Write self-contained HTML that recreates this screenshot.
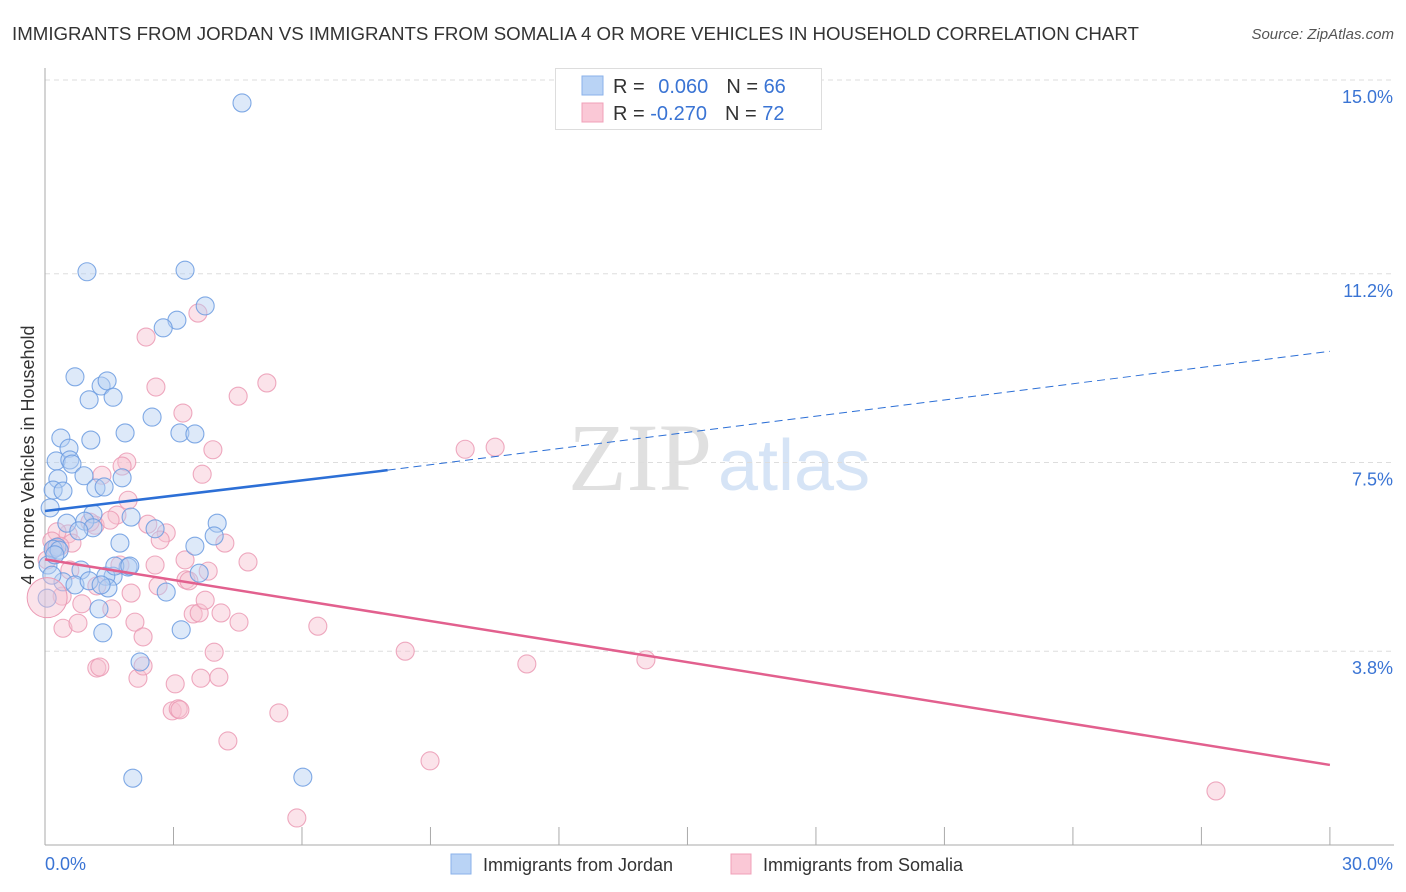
<!DOCTYPE html>
<html><head><meta charset="utf-8"><style>
body{margin:0;background:#fff;font-family:"Liberation Sans",sans-serif}
svg{display:block}
</style></head><body>
<svg id="chart" width="1406" height="892">
<text x="12" y="40" font-size="18.7" fill="#333">IMMIGRANTS FROM JORDAN VS IMMIGRANTS FROM SOMALIA 4 OR MORE VEHICLES IN HOUSEHOLD CORRELATION CHART</text>
<text x="1394" y="39" font-size="15" fill="#555" font-style="italic" text-anchor="end">Source: ZipAtlas.com</text>
<text x="712" y="490" font-size="96" fill="#e0e0e0" font-family="Liberation Serif,serif" text-anchor="end">ZIP</text>
<text x="718" y="490" font-size="72" fill="#d6e4f6">atlas</text>
<g id="grid"></g><g id="axes"></g><g id="pts"></g><g id="lines"></g>
<text transform="translate(34,455) rotate(-90)" font-size="18" fill="#333" text-anchor="middle">4 or more Vehicles in Household</text>
<g>
<rect x="555.5" y="68.5" width="266" height="61" fill="#fff" stroke="#ddd"/>
<rect x="582" y="76" width="21" height="19" fill="#b9d3f5" stroke="#8ab2ea"/>
<rect x="582" y="103" width="21" height="19" fill="#fac8d6" stroke="#f0a0b8"/>
<text x="613" y="93" font-size="20" fill="#333">R = <tspan fill="#3a74d4" dx="8">0.060</tspan><tspan dx="18" fill="#333">N = </tspan><tspan fill="#3a74d4">66</tspan></text>
<text x="613" y="120" font-size="20" fill="#333">R = <tspan fill="#3a74d4">-0.270</tspan><tspan dx="18" fill="#333">N = </tspan><tspan fill="#3a74d4">72</tspan></text>
</g>
<g>
<rect x="451" y="854" width="20" height="20" fill="#b9d3f5" stroke="#8ab2ea"/>
<text x="483" y="871" font-size="18" fill="#333">Immigrants from Jordan</text>
<rect x="731" y="854" width="20" height="20" fill="#fac8d6" stroke="#f0a0b8"/>
<text x="763" y="871" font-size="18" fill="#333">Immigrants from Somalia</text>
</g>
</svg>
<script>
const yTicks=[15.0,11.2,7.5,3.8];
const yTickLabels=["15.0%","11.2%","7.5%","3.8%"];
const xTickLabels=["0.0%","30.0%"];
const jordanPx=[[242,103],[87,272],[185,270],[205,306],[177,320],[163,328],[75,377],[101,386],[107,381],[113,397],[89,400],[152,417],[125,433],[180,433],[195,434],[61,438],[91,440],[69,448],[56,461],[70,460],[72,464],[84,476],[122,478],[58,479],[96,488],[104,487],[53,490],[63,491],[50,508],[93,514],[131,517],[67,523],[85,521],[93,528],[79,531],[217,523],[155,529],[214,536],[120,543],[195,546],[57,547],[53,549],[59,550],[81,570],[113,576],[106,576],[128,567],[115,566],[130,566],[199,573],[63,582],[75,585],[108,588],[89,581],[101,585],[166,592],[99,609],[103,633],[181,630],[140,662],[133,778],[303,777],[48,565],[55,555],[47,598],[52,575]];
const somaliaPx=[[198,313],[146,337],[156,387],[267,383],[238,396],[183,413],[213,450],[465,449],[495,447],[127,462],[122,466],[102,475],[202,474],[117,515],[148,524],[166,533],[68,534],[95,525],[90,522],[57,532],[52,541],[72,543],[60,546],[225,543],[248,562],[155,565],[208,571],[120,565],[186,580],[189,581],[158,586],[131,593],[97,586],[82,604],[112,609],[193,614],[199,613],[221,613],[239,622],[318,626],[63,628],[78,623],[135,622],[143,637],[405,651],[527,664],[646,660],[214,652],[97,668],[100,667],[138,678],[201,678],[219,677],[175,684],[143,666],[172,711],[178,709],[180,710],[279,713],[228,741],[430,761],[1216,791],[297,818],[47,560],[55,548],[70,570],[110,520],[128,500],[160,540],[185,560],[205,600],[62,596]];
const jordanX=jordanPx.map(p=>+((p[0]-45)/42.83).toFixed(2));
const jordanY=jordanPx.map(p=>+((845-p[1])/51.0).toFixed(2));
const somaliaX=somaliaPx.map(p=>+((p[0]-45)/42.83).toFixed(2));
const somaliaY=somaliaPx.map(p=>+((845-p[1])/51.0).toFixed(2));
const jordanTrend=[6.55,7.35,9.68];
const somaliaTrend=[5.6,1.57];
const NS="http://www.w3.org/2000/svg";
const X=v=>45+v*42.83, Y=v=>845-v*51.0;
function mk(t,a,p){const e=document.createElementNS(NS,t);for(const k in a)e.setAttribute(k,a[k]);p.appendChild(e);return e;}
const grid=document.getElementById('grid'),axes=document.getElementById('axes'),pts=document.getElementById('pts'),lines=document.getElementById('lines');
yTicks.forEach((v,i)=>{
 const l=mk('line',{x1:45,x2:1394,y1:Y(v),y2:Y(v),stroke:'#ddd','stroke-dasharray':'5,4'},grid);
 
 
 const t=mk('text',{x:1393,y:Y(v)+23,'font-size':18,fill:'#3a74d4','text-anchor':'end'},grid);
 t.textContent=yTickLabels[i];
 
 
});
const ya=mk('line',{x1:45,x2:45,y1:68,y2:845,stroke:'#aaa'},axes);


const xa=mk('line',{x1:45,x2:1394,y1:845,y2:845,stroke:'#aaa'},axes);


for(let i=0;i<=10;i++){const tk=mk('line',{x1:X(i*3),x2:X(i*3),y1:827,y2:845,stroke:'#aaa'},axes);
 
 }
[[0,45,'start'],[30,1393,'end']].forEach((d,i)=>{const t=mk('text',{x:d[1],y:870,'font-size':18,fill:'#3a74d4','text-anchor':d[2]},axes);t.textContent=xTickLabels[i];
 
 });
function dots(xs,ys,fill,stroke,name){xs.forEach((x,i)=>{const c=mk('circle',{cx:X(x),cy:Y(ys[i]),r:9,fill:fill,'fill-opacity':0.45,stroke:stroke,'stroke-width':1.1,'stroke-opacity':0.85},pts);
 
 });}
dots(somaliaX,somaliaY,'#f7c0d0','#eb9ab4','somalia-point');
dots(jordanX,jordanY,'#b3cff2','#6b9be0','jordan-point');
const big=mk('circle',{cx:X(0.05),cy:Y(4.85),r:20,fill:'#f7c0d0','fill-opacity':0.45,stroke:'#eb9ab4'},pts);


const l1=mk('line',{x1:X(0),y1:Y(jordanTrend[0]),x2:X(8),y2:Y(jordanTrend[1]),stroke:'#2c6fd6','stroke-width':2.5},lines);


const l2=mk('line',{x1:X(8),y1:Y(jordanTrend[1]),x2:X(30),y2:Y(jordanTrend[2]),stroke:'#2c6fd6','stroke-width':1,'stroke-dasharray':'8,5'},lines);


const l3=mk('line',{x1:X(0),y1:Y(somaliaTrend[0]),x2:X(30),y2:Y(somaliaTrend[1]),stroke:'#e2608e','stroke-width':2.5},lines);


</script>
</body></html>
